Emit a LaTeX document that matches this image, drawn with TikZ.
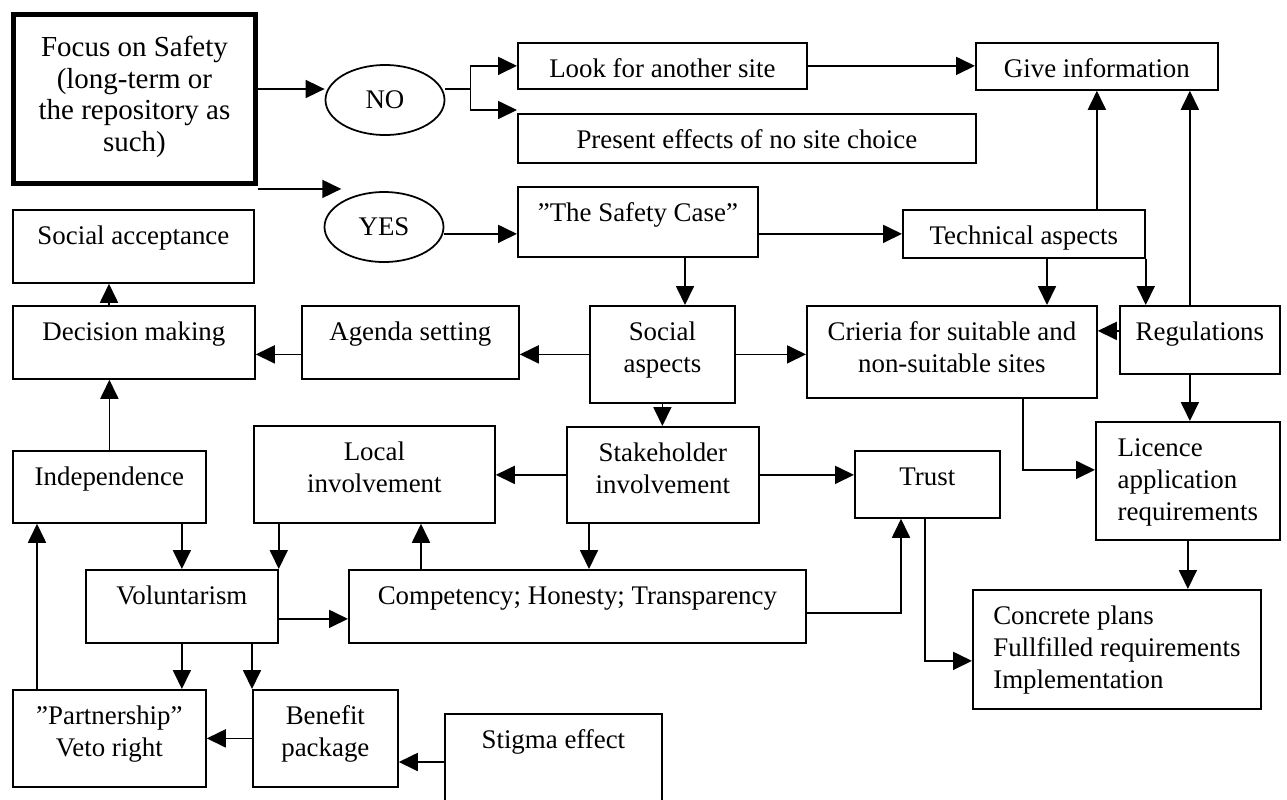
\documentclass[tikz,border=0pt]{standalone}
\usepackage{fontspec}
\setmainfont{Liberation Serif}
\usepackage{tikz}
\usetikzlibrary{arrows.meta,shapes.geometric}

\tikzset{
  box/.style={draw, rectangle, line width=1pt, anchor=north west, inner xsep=2pt, inner ysep=0pt,
    text height=0.7cm, align=center, font=\fontsize{15.3}{18}\selectfont},
  twolines/.style={text height=1.332cm},
  threelines/.style={text height=1.965cm},
  choice/.style={draw, ellipse, line width=1pt, inner sep=0pt, minimum width=2.38cm, minimum height=1.4cm,
    font=\fontsize{15.3}{18}\selectfont},
  arr/.style={-{Triangle[length=0.38cm,width=0.36cm]}, line width=1pt},
}

\begin{document}
\begin{tikzpicture}
    \useasboundingbox (0,0) rectangle (25.74,-15.98);

    % Start
    \node[box, line width=2.8pt, font=\fontsize{16.5}{18}\selectfont, minimum width=4.84cm, text height=2.737cm, text depth=0.643cm] (focus) at (0.22,-0.24) {Focus on Safety\\(long-term or\\the repository as\\such)};
    \node[choice] (no) at (7.70,-2.00) {NO};
    \node[choice] (yes) at (7.68,-4.54) {YES};

    % Top row
    \node[box, minimum width=5.78cm, text depth=0.22cm] (look) at (10.34,-0.84) {Look for another site};
    \node[box, minimum width=9.16cm, text depth=0.28cm] (present) at (10.34,-2.26) {Present effects of no site choice};
    \node[box, minimum width=4.84cm, text depth=0.24cm] (give) at (19.50,-0.84) {Give information};
    \node[box, minimum width=4.80cm, text depth=0.70cm] (safety) at (10.34,-3.72) {”The Safety Case”};
    \node[box, minimum width=4.82cm, text depth=0.76cm] (socacc) at (0.24,-4.18) {Social acceptance};
    \node[box, minimum width=4.84cm, text depth=0.26cm] (tech) at (18.04,-4.18) {Technical aspects};

    % Middle row
    \node[box, minimum width=4.84cm, text depth=0.76cm] (decision) at (0.24,-6.10) {Decision making};
    \node[box, minimum width=4.34cm, text depth=0.76cm] (agenda) at (6.02,-6.10) {Agenda setting};
    \node[box, twolines, minimum width=2.90cm, text depth=0.608cm] (social) at (11.78,-6.10) {Social\\aspects};
    \node[box, twolines, minimum width=5.80cm, text depth=0.508cm] (crit) at (16.12,-6.10) {Crieria for suitable and\\non-suitable sites};
    \node[box, minimum width=3.20cm, text depth=0.66cm] (reg) at (22.38,-6.10) {Regulations};

    % Involvement row
    \node[box, minimum width=3.86cm, text depth=0.74cm] (indep) at (0.24,-9.00) {Independence};
    \node[box, twolines, minimum width=4.82cm, text depth=0.608cm] (local) at (5.06,-8.50) {Local\\involvement};
    \node[box, twolines, minimum width=3.84cm, text depth=0.588cm] (stake) at (11.32,-8.52) {Stakeholder\\involvement};
    \node[box, minimum width=2.90cm, text depth=0.64cm] (trust) at (17.08,-9.00) {Trust};
    \node[box, threelines, minimum width=3.68cm, text depth=0.395cm, align=left] (licence) at (21.90,-8.42) {Licence\\application\\requirements};

    % Lower rows
    \node[box, minimum width=3.84cm, text depth=0.76cm] (volun) at (1.70,-11.38) {Voluntarism};
    \node[box, minimum width=9.14cm, text depth=0.76cm] (comp) at (6.96,-11.38) {Competency; Honesty; Transparency};
    \node[box, threelines, minimum width=5.76cm, text depth=0.415cm, align=left] (concrete) at (19.44,-11.78) {Concrete plans\\Fullfilled requirements\\Implementation};
    \node[box, twolines, minimum width=3.86cm, text depth=0.608cm] (partner) at (0.24,-13.78) {”Partnership”\\Veto right};
    \node[box, twolines, minimum width=2.90cm, text depth=0.608cm] (benefit) at (5.04,-13.78) {Benefit\\package};
    \node[box, minimum width=4.34cm, text depth=1.24cm] (stigma) at (8.88,-14.26) {Stigma effect};

    % Arrows
    \draw[arr] ([yshift=0.22cm]no.west -| focus.east) -- ([yshift=0.22cm]no.west);
    \draw[arr] ([yshift=0.22cm]no.east) -- ++(0.5,0) |- (look.west);
    \draw[arr] ([yshift=0.22cm]no.east) -- ++(0.5,0) |- ([yshift=0.06cm]present.north west);
    \draw[arr] ([yshift=-0.06cm]focus.south east) -- ([yshift=-0.06cm]focus.south east -| yes.north west);
    \draw[arr] ([yshift=-0.24cm]safety.west -| yes.east) -- ([yshift=-0.24cm]safety.west);
    \draw[arr] (safety.east |- tech.west) -- (tech.west);
    \draw[arr] (look.east) -- (look.east -| give.west);
    \draw[arr] (give.south |- tech.north) -- (give.south);
    \draw[arr] ([xshift=-0.2cm]reg.north) -- ([xshift=-0.2cm]reg.north |- give.south);
    \draw[arr] ([xshift=2.9cm]tech.south west) -- ([xshift=2.9cm]tech.south west |- crit.north);
    \draw[arr] (tech.south east) -- (tech.south east |- reg.north);
    \draw[arr] ([yshift=0.18cm]reg.west) -- ([yshift=0.18cm]reg.west -| crit.east);
    \draw[arr] ([xshift=3.36cm]safety.south west) -- ([xshift=3.36cm]safety.south west |- social.north);
    \draw[arr] (social.east) -- (social.east -| crit.west);
    \draw[arr] (social.west) -- (social.west -| agenda.east);
    \draw[arr] (social.west -| agenda.west) -- (social.west -| decision.east);
    \draw[arr] ([xshift=1.94cm]decision.north west) -- ([xshift=1.94cm]decision.north west |- socacc.south);
    \draw[arr] (indep.north) -- (indep.north |- decision.south);
    \draw[arr] (social.south) -- (social.south |- stake.north);
    \draw[arr] (stake.west) -- (stake.west -| local.east);
    \draw[arr] (stake.east) -- (stake.east -| trust.west);
    \draw[arr] ([xshift=0.46cm]stake.south west) -- ([xshift=0.46cm]stake.south west |- comp.north);
    \draw[arr] ([xshift=3.36cm]local.south west |- comp.north) -- ([xshift=3.36cm]local.south west);
    \draw[arr] (volun.north east |- local.south) -- (volun.north east);
    \draw[arr] (volun.north |- indep.south) -- (volun.north);
    \draw[arr] ([yshift=-0.25cm]volun.east) -- ([yshift=-0.25cm]volun.east -| comp.west);
    \draw[arr] (volun.south) -- (volun.south |- partner.north);
    \draw[arr] (benefit.north west |- volun.south) -- (benefit.north west);
    \draw[arr] ([xshift=0.5cm]partner.north west) -- ([xshift=0.5cm]partner.north west |- indep.south);
    \draw[arr] (benefit.west) -- (benefit.west -| partner.east);
    \draw[arr] ([yshift=-0.98cm]stigma.north west) -- ([yshift=-0.98cm]stigma.north west -| benefit.east);
    \draw[arr] ([yshift=-0.13cm]comp.east) -| ([xshift=0.94cm]trust.south west);
    \draw[arr] ([xshift=1.42cm]trust.south west) |- ([yshift=-0.23cm]concrete.west);
    \draw[arr] ([xshift=4.34cm]crit.south west) |- ([yshift=0.22cm]licence.west);
    \draw[arr] ([xshift=-0.2cm]reg.south) -- ([xshift=-0.2cm]reg.south |- licence.north);
    \draw[arr] (licence.south) -- (licence.south |- concrete.north);
\end{tikzpicture}
\end{document}
